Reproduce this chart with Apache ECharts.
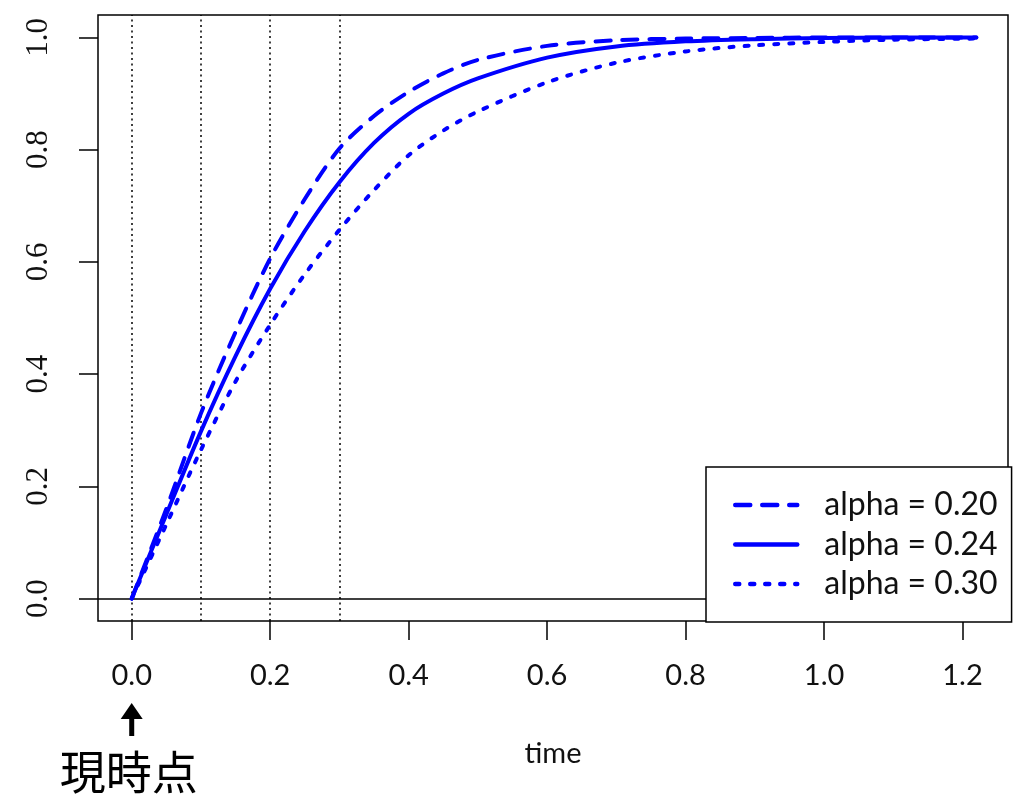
<!DOCTYPE html>
<html>
<head>
<meta charset="utf-8">
<script src="https://cdn.jsdelivr.net/npm/echarts@6/dist/echarts.min.js"></script>
<style>
html,body{margin:0;padding:0;background:#fff;}
#main{width:1015px;height:798px;}
</style>
</head>
<body>
<div id="main"></div>
<script>
// ---- data ----
var times   = [0, 0.05, 0.1, 0.15, 0.2, 0.25, 0.3, 0.35, 0.4, 0.45, 0.5, 0.6, 0.7, 0.8, 0.9, 1.0, 1.1, 1.22];
var alpha20 = [0, 0.160, 0.330, 0.475, 0.606, 0.712, 0.802, 0.860, 0.903, 0.936, 0.960, 0.985, 0.995, 0.998, 0.999, 1.0, 1.0, 1.0];
var alpha24 = [0, 0.150, 0.298, 0.432, 0.552, 0.655, 0.742, 0.812, 0.864, 0.900, 0.927, 0.964, 0.984, 0.993, 0.997, 0.999, 1.0, 1.0];
var alpha30 = [0, 0.132, 0.265, 0.387, 0.488, 0.578, 0.657, 0.728, 0.790, 0.834, 0.868, 0.920, 0.955, 0.975, 0.986, 0.992, 0.996, 0.998];
var seriesNames = ['alpha = 0.20', 'alpha = 0.24', 'alpha = 0.30'];
var xTicks = [0, 0.2, 0.4, 0.6, 0.8, 1.0, 1.2];
var yTicks = [0, 0.2, 0.4, 0.6, 0.8, 1.0];
var vLines = [0, 0.1, 0.2, 0.3];
var hLine = 0;
var xName = 'time';
var nowLabel = '現時点';
var nowX = 0;

function pairs(xs, ys) { return xs.map(function (x, i) { return [x, ys[i]]; }); }

var chart = echarts.init(document.getElementById('main'), null, {renderer: 'canvas'});
var blue = '#0000ff';
function curve(name, ys, ltype) {
  return {
    name: name, type: 'line', data: pairs(times, ys),
    symbol: 'circle', symbolSize: 0, showSymbol: false,
    smooth: 0.3,
    lineStyle: {color: blue, width: 4, type: ltype, cap: 'round'},
    itemStyle: {color: blue}, z: 3
  };
}
var option = {
  backgroundColor: '#ffffff',
  animation: false,
  grid: {left: 98, right: 7, top: 15, bottom: 177, show: true, borderColor: '#000', borderWidth: 1.5, backgroundColor: 'transparent'},
  legend: {
    orient: 'vertical', left: 706, top: 467, z: 20,
    backgroundColor: '#fff', borderColor: '#000', borderWidth: 1.5, borderRadius: 0,
    padding: [22, 14, 22, 27],
    itemWidth: 62, itemHeight: 14, itemGap: 7.5,
    itemStyle: {opacity: 0},
    lineStyle: {width: 4.5},
    textStyle: {fontFamily: 'Lato', fontSize: 32, color: '#111', lineHeight: 30, padding: [0, 0, 0, 22]},
    data: seriesNames
  },
  xAxis: {
    type: 'value', min: -0.0487, max: 1.2657,
    name: xName, nameLocation: 'middle', nameGap: 118,
    nameTextStyle: {fontFamily: 'Lato', fontSize: 29, color: '#111'},
    axisLine: {show: false, onZero: false},
    axisTick: {show: true, customValues: xTicks, length: 19, lineStyle: {color: '#000', width: 1.5}},
    axisLabel: {customValues: xTicks, margin: 40, fontFamily: 'Lato', fontSize: 29, color: '#111',
      formatter: function (v) { return v.toFixed(1); }},
    splitLine: {show: false}
  },
  yAxis: {
    type: 'value', min: -0.04, max: 1.04,
    axisLine: {show: false, onZero: false},
    axisTick: {show: true, customValues: yTicks, length: 19, lineStyle: {color: '#000', width: 1.5}},
    axisLabel: {customValues: yTicks, margin: 44, rotate: 90, fontFamily: 'Liberation Serif', fontSize: 31, color: '#111',
      formatter: function (v) { return v.toFixed(1); }},
    splitLine: {show: false}
  },
  series: [
    curve(seriesNames[0], alpha20, [15, 12]),
    curve(seriesNames[1], alpha24, 'solid'),
    curve(seriesNames[2], alpha30, [4, 11]),
    {
      name: 'refLines', type: 'line', data: [], symbol: 'none', z: 1,
      markLine: {
        z: 1, silent: true, symbol: 'none', label: {show: false}, animation: false,
        data: vLines.map(function (v) { return {xAxis: v, lineStyle: {color: '#000', width: 1.5, type: [2, 3.5]}}; })
          .concat([{yAxis: hLine, lineStyle: {color: '#000', width: 1.5, type: 'solid'}}])
      }
    }
  ]
};
chart.setOption(option);

// annotation arrow + label under x = nowX
var px = chart.convertToPixel({xAxisIndex: 0}, nowX);
chart.setOption({
  graphic: [
    {type: 'polygon', shape: {points: [[px, 703], [px - 11, 719], [px + 11, 719]]}, style: {fill: '#000'}},
    {type: 'rect', shape: {x: px - 2.5, y: 716, width: 5, height: 20}, style: {fill: '#000'}},
    {type: 'text', x: px - 3, y: 772, style: {text: nowLabel, fontFamily: 'Noto Sans CJK JP', fontSize: 46, fill: '#000', align: 'center', verticalAlign: 'middle'}}
  ]
});
</script>
</body>
</html>
